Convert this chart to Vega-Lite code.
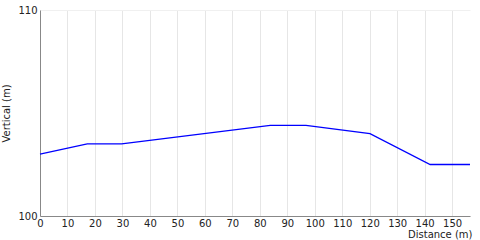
{
  "$schema": "https://vega.github.io/schema/vega-lite/v6.json",
  "width": 430,
  "height": 206,
  "autosize": {"type": "none"},
  "padding": {"left": 40, "top": 10, "right": 10, "bottom": 24},
  "config": {
    "view": {"stroke": null},
    "font": "DejaVu Sans"
  },
  "data": {
    "values": [
      {"d": 0, "v": 103.0},
      {"d": 17.2, "v": 103.5},
      {"d": 29.7, "v": 103.5},
      {"d": 83.8, "v": 104.4},
      {"d": 96.8, "v": 104.4},
      {"d": 120.1, "v": 104.0},
      {"d": 142.0, "v": 102.5},
      {"d": 156.5, "v": 102.5}
    ]
  },
  "mark": {"type": "line", "color": "#0000ff", "strokeWidth": 1.3},
  "encoding": {
    "x": {
      "field": "d",
      "type": "quantitative",
      "scale": {"domain": [0, 156.5], "nice": false},
      "axis": {
        "values": [0, 10, 20, 30, 40, 50, 60, 70, 80, 90, 100, 110, 120, 130, 140, 150],
        "title": "Distance (m)",
        "titleFont": "DejaVu Sans",
        "titleFontWeight": "normal",
        "titleFontSize": 10,
        "titleColor": "#222",
        "titleAnchor": "end",
        "titleAlign": "right",
        "titleBaseline": "bottom",
        "titleX": 432,
        "titleY": 23,
        "labelFontSize": 10,
        "labelColor": "#222",
        "labelFont": "DejaVu Sans",
        "labelPadding": 2,
        "ticks": false,
        "grid": true,
        "gridColor": "#e6e6e6",
        "domainColor": "#888",
        "labelFlush": false
      }
    },
    "y": {
      "field": "v",
      "type": "quantitative",
      "scale": {"domain": [100, 110], "nice": false, "zero": false},
      "axis": {
        "values": [100, 110],
        "title": "Vertical (m)",
        "titleFont": "DejaVu Sans",
        "titleFontWeight": "normal",
        "titleFontSize": 10,
        "titleColor": "#222",
        "titleX": -29,
        "labelFontSize": 10,
        "labelColor": "#222",
        "labelFont": "DejaVu Sans",
        "labelPadding": 3,
        "ticks": false,
        "grid": true,
        "gridColor": "#f0f0f0",
        "domainColor": "#888",
        "labelFlush": false
      }
    }
  }
}
